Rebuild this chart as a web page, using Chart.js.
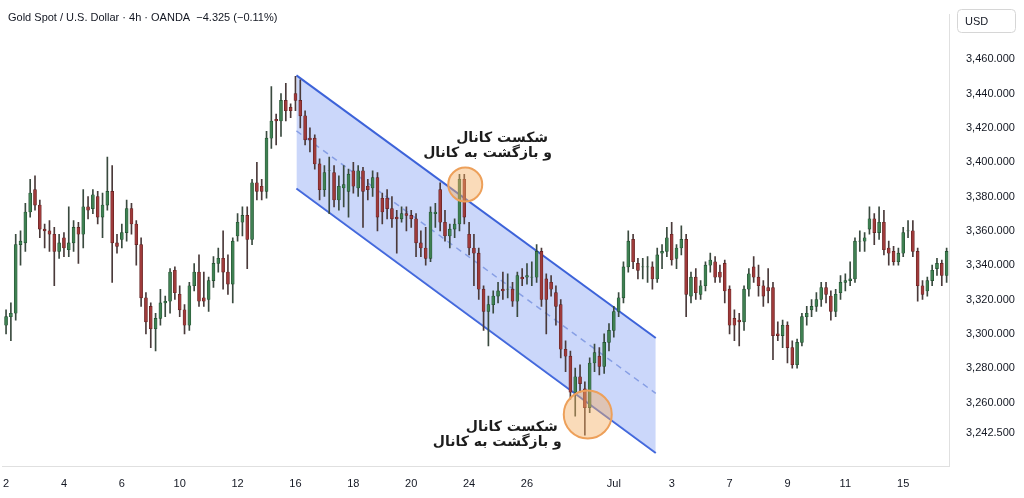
<!DOCTYPE html>
<html lang="fa">
<head>
<meta charset="UTF-8">
<title>Gold Spot 4h</title>
<script src="https://cdn.jsdelivr.net/npm/chart.js"></script>
<style>
    body { margin: 0; background: #fff; }
    #wrap { width: 1024px; height: 498px; position: relative; }
</style>
</head>
<body>
<div id="wrap"><canvas id="goldChart" width="1024" height="498"></canvas></div>
<script>
// candle data (4h)
const opens = [3305,3310,3312,3352,3353,3371,3384,3375,3361,3360,3358,3348,3356,3349,3353,3362,3358,3374,3373,3380,
    3368,3375,3383,3353,3355,3359,3373,3364,3352,3321,3316,3303,3309,3318,3319,3337,3323,3314,3305,3328,
    3336,3321,3320,3331,3341,3344,3336,3329,3357,3365,3369,3355,3388,3386,3383,3414,3425,3424,3436,3432,
    3440,3436,3427,3414,3414,3399,3384,3395,3394,3378,3385,3383,3395,3385,3395,3386,3385,3391,3379,3379,
    3373,3368,3367,3370,3369,3367,3353,3350,3344,3370,3384,3365,3357,3361,3364,3390,3358,3350,3347,3326,
    3313,3317,3322,3326,3326,3326,3319,3333,3333,3333,3333,3348,3332,3330,3324,3317,3291,3287,3266,3275,
    3268,3257,3283,3287,3281,3295,3302,3313,3321,3339,3355,3341,3339,3339,3339,3332,3347,3348,3358,3344,
    3350,3355,3322,3333,3323,3328,3340,3342,3336,3341,3326,3309,3308,3307,3326,3339,3333,3328,3327,3327,
    3300,3299,3305,3292,3282,3295,3310,3314,3316,3320,3327,3322,3313,3324,3330,3331,3332,3354,3354,3361,
    3367,3359,3365,3350,3348,3342,3347,3360,3360,3348,3328,3325,3331,3338,3341,3334];
const highs = [3314,3318,3358,3360,3376,3390,3392,3378,3364,3366,3362,3358,3359,3374,3366,3365,3384,3380,3384,3383,
    3382,3403,3398,3358,3364,3378,3376,3366,3356,3324,3318,3312,3326,3322,3338,3339,3328,3317,3330,3341,
    3346,3336,3333,3345,3350,3360,3346,3356,3370,3374,3374,3390,3400,3390,3418,3444,3428,3440,3446,3434,
    3450,3448,3430,3420,3416,3402,3398,3403,3398,3392,3398,3396,3400,3398,3397,3390,3395,3394,3382,3384,
    3380,3372,3374,3374,3372,3370,3360,3362,3374,3376,3388,3372,3364,3367,3393,3393,3365,3358,3350,3328,
    3322,3325,3330,3336,3335,3330,3336,3338,3341,3342,3352,3350,3335,3334,3328,3320,3296,3290,3280,3282,
    3272,3286,3294,3292,3300,3306,3316,3324,3342,3360,3358,3344,3344,3345,3342,3350,3352,3362,3365,3352,
    3363,3358,3336,3338,3331,3342,3347,3345,3340,3343,3328,3314,3312,3328,3338,3345,3340,3331,3338,3330,
    3307,3308,3307,3296,3297,3312,3316,3320,3324,3330,3330,3325,3326,3334,3335,3342,3356,3360,3359,3374,
    3370,3374,3372,3354,3351,3350,3362,3366,3366,3350,3331,3333,3340,3344,3343,3350];
const lows = [3300,3296,3308,3340,3348,3368,3372,3356,3350,3348,3328,3344,3345,3345,3348,3341,3350,3367,3370,3364,
    3356,3372,3330,3347,3350,3354,3358,3340,3316,3300,3292,3290,3305,3310,3312,3320,3310,3300,3302,3325,
    3316,3316,3313,3327,3336,3326,3323,3318,3354,3357,3338,3352,3378,3378,3379,3408,3410,3415,3424,3426,
    3430,3420,3410,3406,3396,3378,3380,3370,3374,3372,3374,3368,3382,3380,3362,3378,3380,3360,3364,3367,
    3362,3347,3365,3360,3362,3345,3345,3340,3342,3362,3360,3354,3350,3356,3360,3364,3346,3328,3320,3302,
    3293,3312,3318,3320,3321,3316,3310,3328,3329,3328,3330,3316,3300,3322,3305,3286,3278,3262,3252,3266,
    3241,3254,3278,3276,3277,3290,3298,3310,3318,3336,3338,3332,3332,3330,3326,3330,3338,3345,3340,3338,
    3346,3310,3318,3320,3320,3325,3336,3330,3330,3318,3300,3296,3293,3302,3322,3330,3322,3316,3318,3285,
    3296,3292,3283,3280,3280,3293,3305,3310,3313,3316,3318,3308,3310,3320,3325,3328,3330,3348,3348,3358,
    3352,3355,3346,3340,3340,3340,3345,3356,3345,3319,3320,3322,3328,3334,3328,3330];
const closes = [3310,3312,3352,3354,3371,3382,3375,3361,3360,3358,3348,3353,3350,3353,3362,3358,3374,3372,3381,3368,
    3375,3383,3353,3351,3359,3373,3364,3352,3321,3307,3303,3309,3318,3319,3336,3324,3314,3305,3328,3336,
    3319,3319,3331,3341,3344,3336,3329,3354,3365,3369,3355,3388,3383,3383,3414,3424,3424,3436,3430,3430,
    3436,3427,3413,3413,3399,3384,3394,3395,3378,3386,3387,3393,3386,3395,3383,3384,3391,3368,3371,3373,
    3367,3367,3370,3369,3367,3353,3350,3344,3371,3371,3365,3357,3361,3364,3390,3368,3350,3347,3326,3313,
    3317,3322,3325,3325,3326,3319,3334,3332,3334,3333,3348,3320,3320,3326,3316,3291,3287,3266,3275,3271,
    3257,3283,3289,3281,3295,3302,3313,3321,3339,3354,3342,3337,3339,3339,3332,3346,3348,3356,3343,3350,
    3355,3323,3333,3324,3328,3340,3343,3333,3333,3325,3305,3305,3307,3326,3335,3333,3328,3322,3325,3299,
    3299,3305,3292,3282,3295,3310,3312,3316,3320,3327,3323,3313,3323,3330,3331,3332,3354,3354,3356,3367,
    3359,3365,3349,3347,3342,3347,3359,3360,3348,3328,3323,3331,3337,3341,3334,3348];

// x tick labels: candle index of day start -> label
const dayTickIndex = [0, 12, 24, 36, 48, 60, 72, 84, 96, 108, 126, 138, 150, 162, 174, 186];
const dayTickLabels = ['2', '4', '6', '10', '12', '16', '18', '20', '24', '26', 'Jul', '3', '7', '9', '11', '15'];
const priceTicks = [3460, 3440, 3420, 3400, 3380, 3360, 3340, 3320, 3300, 3280, 3260, 3242.5];

// channel (candle index, price)
const channelUpper = [{x: 60.2, y: 3450.6}, {x: 134.7, y: 3297.6}];
const channelLower = [{x: 60.2, y: 3384.7}, {x: 134.7, y: 3230.6}];
const channelMid = [{x: 60.2, y: 3418.2}, {x: 134.7, y: 3265.3}];

// marked breakouts: circle centre, radius in px, label anchor (right end, baseline)
const marks = [
    {x: 95.2, y: 3387, r: 17, textX: 113.2, textY: 3412},
    {x: 120.6, y: 3253, r: 24, textX: 115.2, textY: 3243.5}
];
const markText = ['شکست کانال', 'و بازگشت به کانال'];

const UP = '#3f8052', UP_EDGE = '#1f4a2c', DOWN = '#9e3a3a', DOWN_EDGE = '#5c1f1f';
const isUp = closes.map((c, i) => c >= opens[i]);

const wicks = lows.map((l, i) => ({x: i, y: [l, highs[i]]}));
const bodies = opens.map((o, i) => ({x: i, y: [Math.min(o, closes[i]), Math.max(o, closes[i]) + 0.01]}));

const overlay = {
    id: 'overlay',
    afterDatasetsDraw(chart) {
        const ctx = chart.ctx, xs = chart.scales.x, ys = chart.scales.y;
        ctx.save();
        marks.forEach(m => {
            ctx.beginPath();
            ctx.arc(xs.getPixelForValue(m.x), ys.getPixelForValue(m.y), m.r, 0, Math.PI * 2);
            ctx.fillStyle = 'rgba(245,175,100,0.45)';
            ctx.fill();
            ctx.lineWidth = 2;
            ctx.strokeStyle = '#eda05a';
            ctx.stroke();
            const tx = xs.getPixelForValue(m.textX), ty = ys.getPixelForValue(m.textY);
            ctx.fillStyle = '#1d1d1d';
            ctx.font = 'bold 14px "DejaVu Sans"';
            ctx.direction = 'rtl';
            ctx.textAlign = 'start';
            ctx.fillText(markText[0], tx - 4, ty);
            ctx.fillText(markText[1], tx, ty + 15);
        });
        ctx.restore();
    },
    afterDraw(chart) {
        const ctx = chart.ctx;
        ctx.save();
        ctx.fillStyle = '#131722';
        ctx.font = '11px "Liberation Sans"';
        ctx.textAlign = 'left';
        ctx.fillText('Gold Spot / U.S. Dollar · 4h · OANDA  −4.325 (−0.11%)', 8, 21);
        ctx.strokeStyle = '#d6d6d6';
        ctx.lineWidth = 1;
        ctx.beginPath();
        ctx.roundRect(957.5, 9.5, 58, 23, 4);
        ctx.stroke();
        ctx.fillText('USD', 965, 25);
        ctx.restore();
    }
};

new Chart(document.getElementById('goldChart'), {
    type: 'bar',
    data: {
        datasets: [
            {
                data: wicks, order: 1, grouped: false, barThickness: 1,
                backgroundColor: isUp.map(u => u ? '#3a4a3f' : '#4a3a3a')
            },
            {
                data: bodies, order: 0, grouped: false, barThickness: 3,
                backgroundColor: isUp.map(u => u ? UP : DOWN),
                borderColor: isUp.map(u => u ? UP_EDGE : DOWN_EDGE),
                borderWidth: 0.6, borderSkipped: false
            },
            {
                type: 'line', data: channelUpper, order: 3, borderColor: '#3d63d9', borderWidth: 2,
                pointRadius: 0, fill: '+1', backgroundColor: 'rgba(105,140,240,0.35)'
            },
            {
                type: 'line', data: channelLower, order: 3, borderColor: '#3d63d9', borderWidth: 2,
                pointRadius: 0, fill: false
            },
            {
                type: 'line', data: channelMid, order: 3, borderColor: 'rgba(80,110,200,0.6)', borderWidth: 1.5,
                borderDash: [6, 5], pointRadius: 0, fill: false
            }
        ]
    },
    options: {
        responsive: false,
        animation: false,
        layout: {padding: 0},
        plugins: {legend: {display: false}, tooltip: {enabled: false}},
        scales: {
            x: {
                type: 'linear', min: -0.83, max: 195.7, offset: false,
                grid: {display: false},
                border: {color: '#e0e0e0'},
                afterFit(axis) { axis.height = 32; },
                afterBuildTicks(axis) { axis.ticks = dayTickIndex.map(v => ({value: v})); },
                ticks: {
                    autoSkip: false, maxRotation: 0, color: '#131722',
                    font: {family: 'Liberation Sans', size: 11},
                    callback: v => dayTickLabels[dayTickIndex.indexOf(v)]
                }
            },
            y: {
                position: 'right', min: 3223, max: 3486,
                grid: {display: false},
                border: {color: '#e0e0e0'},
                afterFit(axis) { axis.width = 74; },
                afterBuildTicks(axis) { axis.ticks = priceTicks.map(v => ({value: v})); },
                ticks: {
                    color: '#131722', padding: 8,
                    font: {family: 'Liberation Sans', size: 11},
                    callback: v => v.toLocaleString('en-US', {minimumFractionDigits: 3})
                }
            }
        }
    },
    plugins: [overlay]
});
</script>
</body>
</html>
